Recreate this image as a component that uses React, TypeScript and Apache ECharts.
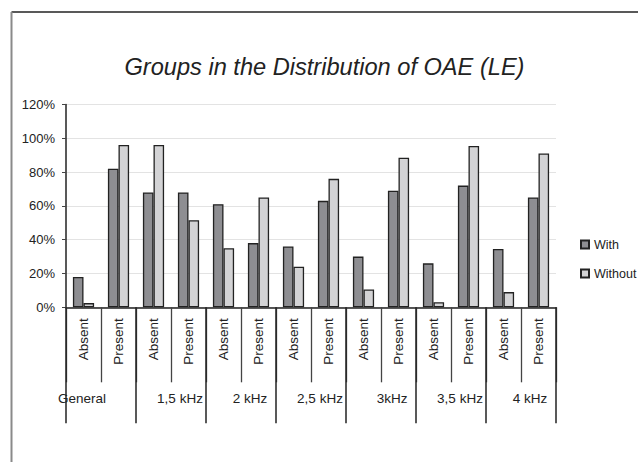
import React, { useEffect, useRef } from "react";
import * as echarts from "echarts";

const titleText = "Groups in the Distribution of OAE (LE)";
const categories = [
  "Absent", "Present", "Absent", "Present", "Absent", "Present", "Absent",
  "Present", "Absent", "Present", "Absent", "Present", "Absent", "Present",
];
const groups = ["General", "1,5 kHz", "2 kHz", "2,5 kHz", "3kHz", "3,5 kHz", "4 kHz"];
const groupShift = [-19, 9, 9, 9, 11, 9, 9];
const seriesNames = ["With", "Without"];
const withValues = [18, 82, 68, 68, 61, 38, 36, 63, 30, 69, 26, 72, 34.5, 65];
const withoutValues = [2.5, 96, 96, 51.5, 35, 65, 24, 76, 10.5, 88.5, 3, 95.5, 9, 91];
const yTicks = [0, 20, 40, 60, 80, 100, 120];

const FONT = "Liberation Sans, Arial, sans-serif";

export default function App() {
  const ref = useRef<HTMLDivElement>(null);
  useEffect(() => {
    if (!ref.current) return;
    const chart = echarts.init(ref.current, undefined, { renderer: "svg" });
    const barStyle = (color: string) => ({
      color,
      borderColor: "#222",
      borderWidth: 1.3,
    });
    chart.setOption({
      animation: false,
      backgroundColor: "#fff",
      textStyle: { fontFamily: FONT },
      graphic: [
        {
          type: "line",
          shape: { x1: 11.5, y1: 12, x2: 638, y2: 12 },
          style: { stroke: "#222", lineWidth: 1.5 },
        },
        {
          type: "line",
          shape: { x1: 11.5, y1: 12, x2: 11.5, y2: 462 },
          style: { stroke: "#8a8a8a", lineWidth: 2 },
        },
        {
          type: "text",
          x: 324.5,
          y: 67,
          style: {
            text: titleText,
            fontFamily: FONT,
            fontSize: 23.6,
            fontStyle: "italic",
            fill: "#222",
            align: "center",
            verticalAlign: "middle",
          },
        },
      ],
      legend: {
        orient: "vertical",
        left: 575,
        top: 233,
        itemWidth: 8,
        itemHeight: 8,
        itemGap: 16,
        icon: "rect",
        data: seriesNames,
        textStyle: { fontFamily: FONT, fontSize: 12.5, color: "#222" },
      },
      grid: { left: 66, right: 82, top: 104.5, bottom: 154.7, containLabel: false },
      xAxis: [
        {
          type: "category",
          data: categories,
          position: "bottom",
          axisLine: { show: true, lineStyle: { color: "#222", width: 1.5 } },
          axisTick: {
            show: true,
            interval: 0,
            length: 75,
            lineStyle: { color: "#444", width: 1.3 },
          },
          axisLabel: {
            interval: 0,
            rotate: 90,
            margin: 11,
            fontFamily: FONT,
            fontSize: 13.5,
            color: "#222",
          },
        },
        {
          type: "category",
          data: groups.map((g, i) => ({
            value: g,
            textStyle: {
              padding:
                groupShift[i] < 0
                  ? [0, -2 * groupShift[i], 0, 0]
                  : [0, 0, 0, 2 * groupShift[i]],
            },
          })),
          position: "bottom",
          axisLine: { show: false },
          axisTick: {
            show: true,
            interval: 0,
            length: 116,
            lineStyle: { color: "#222", width: 1.5 },
          },
          axisLabel: {
            interval: 0,
            margin: 84,
            fontFamily: FONT,
            fontSize: 13.5,
            color: "#222",
          },
          splitLine: { show: false },
        },
      ],
      yAxis: {
        type: "value",
        min: 0,
        max: 120,
        interval: 20,
        axisLine: { show: true, lineStyle: { color: "#222", width: 1.5 } },
        axisTick: { show: true, length: 4, lineStyle: { color: "#444" } },
        axisLabel: {
          margin: 11,
          fontFamily: FONT,
          fontSize: 13,
          color: "#222",
          formatter: (v: number) => (yTicks.includes(v) ? `${v}%` : ""),
        },
        splitLine: { show: true, lineStyle: { color: "#e3e3e3", width: 1.2 } },
      },
      series: [
        {
          name: seriesNames[0],
          type: "bar",
          xAxisIndex: 0,
          data: withValues,
          barWidth: 10.6,
          barGap: "0%",
          itemStyle: barStyle("#8e8e92"),
        },
        {
          name: seriesNames[1],
          type: "bar",
          xAxisIndex: 0,
          data: withoutValues,
          barWidth: 10.6,
          barGap: "0%",
          itemStyle: barStyle("#d3d3d5"),
        },
      ],
    });
    return () => chart.dispose();
  }, []);
  return (
    <div
      ref={ref}
      style={{ position: "fixed", left: 0, top: 0, width: 638, height: 462 }}
    />
  );
}
